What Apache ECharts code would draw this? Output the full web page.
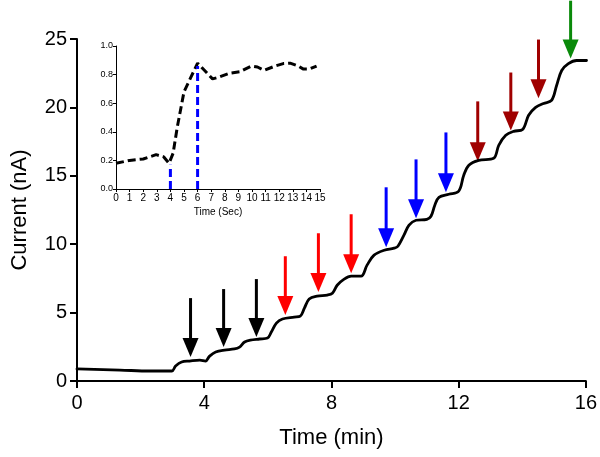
<!DOCTYPE html>
<html>
<head>
<meta charset="utf-8">
<script src="https://cdn.jsdelivr.net/npm/echarts@6/dist/echarts.min.js"></script>
<style>html,body{margin:0;padding:0;background:#fff}#c{width:600px;height:457px}</style>
</head>
<body>
<div id="c"></div>
<script>
// Main trace: time (min) and current (nA)
var timeMin = [0, 1.35, 2.29, 2.98, 3.1, 3.29, 3.54, 3.86, 4.04, 4.17, 4.36, 4.64, 4.95, 5.11, 5.27, 5.45, 5.74, 5.99,
  6.11, 6.27, 6.46, 6.83, 7.02, 7.15, 7.3, 7.55, 7.87, 8.03, 8.18, 8.4, 8.62, 8.93, 9.12, 9.34, 9.66, 9.97, 10.09,
  10.28, 10.44, 10.66, 11.0, 11.13, 11.25, 11.38, 11.69, 12.0, 12.16, 12.32, 12.63, 13.1, 13.26, 13.48, 13.73, 14.01,
  14.2, 14.42, 14.67, 14.92, 15.08, 15.24, 15.45, 15.71, 16.02];
var currentNA = [0.88, 0.80, 0.73, 0.73, 1.09, 1.39, 1.46, 1.53, 1.46, 1.82, 2.12, 2.26, 2.34, 2.48, 2.85, 2.99, 3.07, 3.14,
  3.58, 4.23, 4.53, 4.67, 4.74, 5.33, 5.99, 6.2, 6.28, 6.42, 7.0, 7.45, 7.66, 7.66, 8.47, 9.2, 9.56, 9.71, 9.85,
  10.66, 11.39, 11.75, 11.82, 12.04, 12.85, 13.43, 13.65, 13.87, 15.04, 15.77, 16.13, 16.28, 17.23, 17.96, 18.25, 18.39,
  19.42, 20.0, 20.29, 20.51, 21.6, 22.7, 23.2, 23.43, 23.43];

// Addition arrows
var arrowX = [3.57, 4.61, 5.64, 6.55, 7.59, 8.62, 9.72, 10.66, 11.6, 12.6, 13.64, 14.51, 15.52];
var arrowTop = [6.06, 6.72, 7.45, 9.12, 10.8, 12.19, 14.16, 16.2, 18.17, 20.44, 22.55, 24.96, 27.8];
var arrowTip = [1.75, 2.48, 3.21, 4.82, 6.5, 7.88, 9.78, 11.9, 13.8, 16.06, 18.32, 20.66, 23.58];
var arrowColor = ['#000000', '#000000', '#000000', '#ff0000', '#ff0000', '#ff0000', '#0000ff', '#0000ff', '#0000ff',
  '#a00000', '#a00000', '#a00000', '#0a8a0a'];

// Inset: time (sec) and response
var insetSec = [0, 1, 2, 2.95, 3.5, 3.9, 4.2, 4.5, 5, 5.5, 6.0, 6.5, 7.1, 7.5, 8.35, 9.1, 9.95, 10.4, 10.9, 11.7, 12.3, 12.8, 13.4, 13.75, 14.25, 14.75];
var insetVal = [0.18, 0.2, 0.21, 0.24, 0.225, 0.18, 0.25, 0.43, 0.68, 0.78, 0.88, 0.83, 0.77, 0.78, 0.81, 0.82, 0.86, 0.853, 0.83, 0.86, 0.877, 0.88, 0.86, 0.84, 0.84, 0.86];
var insetMarkX = [4, 6];
var insetMarkY = [0.17, 0.86];

var FONT = 'Liberation Sans, Arial, sans-serif';

function zip(a, b) { return a.map(function (v, i) { return [v, b[i]]; }); }

var arrowData = arrowX.map(function (x, i) { return [x, arrowTop[i], arrowTip[i], i]; });

var chart = echarts.init(document.getElementById('c'), null, { renderer: 'canvas' });
chart.setOption({
  animation: false,
  backgroundColor: '#ffffff',
  grid: [
    { left: 77, right: 12, top: 39, bottom: 76 },
    { left: 116, top: 46, width: 204, height: 143 }
  ],
  xAxis: [
    {
      gridIndex: 0, type: 'value', min: 0, max: 16, interval: 4,
      name: 'Time (min)', nameLocation: 'middle', nameGap: 46,
      nameTextStyle: { fontFamily: FONT, fontSize: 22, color: '#000' },
      axisLine: { lineStyle: { color: '#000', width: 2 } },
      axisTick: { length: 7, lineStyle: { color: '#000', width: 2 } },
      axisLabel: { fontFamily: FONT, fontSize: 20, color: '#000', margin: 12 },
      splitLine: { show: false }
    },
    {
      gridIndex: 1, type: 'value', min: 0, max: 15, interval: 1,
      name: 'Time (Sec)', nameLocation: 'middle', nameGap: 18,
      nameTextStyle: { fontFamily: FONT, fontSize: 10, color: '#000' },
      axisLine: { lineStyle: { color: '#000', width: 1 } },
      axisTick: { length: 3, lineStyle: { color: '#000', width: 1 } },
      axisLabel: { fontFamily: FONT, fontSize: 10, color: '#000', margin: 4 },
      splitLine: { show: false }
    }
  ],
  yAxis: [
    {
      gridIndex: 0, type: 'value', min: 0, max: 25, interval: 5,
      name: 'Current (nA)', nameLocation: 'middle', nameGap: 46,
      nameTextStyle: { fontFamily: FONT, fontSize: 22, color: '#000' },
      axisLine: { show: true, lineStyle: { color: '#000', width: 2 } },
      axisTick: { show: true, length: 7, lineStyle: { color: '#000', width: 2 } },
      axisLabel: { fontFamily: FONT, fontSize: 20, color: '#000', margin: 10 },
      splitLine: { show: false }
    },
    {
      gridIndex: 1, type: 'value', min: 0, max: 1, interval: 0.2,
      axisLine: { show: true, lineStyle: { color: '#000', width: 1 } },
      axisTick: { show: true, length: 3, lineStyle: { color: '#000', width: 1 } },
      axisLabel: { fontFamily: FONT, fontSize: 9, color: '#000', margin: 3,
        formatter: function (v) { return v.toFixed(1); } },
      splitLine: { show: false }
    }
  ],
  series: [
    {
      type: 'line', xAxisIndex: 0, yAxisIndex: 0,
      data: zip(timeMin, currentNA), showSymbol: false, symbol: 'none',
      smooth: 0.35,
      lineStyle: { color: '#000', width: 2.8, join: 'round', cap: 'round' }
    },
    {
      type: 'custom', xAxisIndex: 0, yAxisIndex: 0, clip: false,
      data: arrowData,
      renderItem: function (params, api) {
        var top = api.coord([api.value(0), api.value(1)]);
        var tip = api.coord([api.value(0), api.value(2)]);
        var col = arrowColor[api.value(3)];
        var headH = 19, headW = 8;
        return {
          type: 'group',
          children: [
            { type: 'line', shape: { x1: top[0], y1: top[1], x2: tip[0], y2: tip[1] - headH + 2 },
              style: { stroke: col, lineWidth: 3 } },
            { type: 'polygon', shape: { points: [[tip[0] - headW, tip[1] - headH], [tip[0] + headW, tip[1] - headH], [tip[0], tip[1]]] },
              style: { fill: col } }
          ]
        };
      }
    },
    {
      type: 'line', xAxisIndex: 1, yAxisIndex: 1,
      data: zip(insetSec, insetVal), showSymbol: false, symbol: 'none',
      lineStyle: { color: '#000', width: 3, type: [8, 4] }
    },
    {
      type: 'line', xAxisIndex: 1, yAxisIndex: 1,
      data: [[insetMarkX[0], 0], [insetMarkX[0], insetMarkY[0]]], showSymbol: false, symbol: 'none',
      lineStyle: { color: '#0000ff', width: 3, type: [8, 4] }
    },
    {
      type: 'line', xAxisIndex: 1, yAxisIndex: 1,
      data: [[insetMarkX[1], 0], [insetMarkX[1], insetMarkY[1]]], showSymbol: false, symbol: 'none',
      lineStyle: { color: '#0000ff', width: 3, type: [8, 4] }
    }
  ]
});
</script>
</body>
</html>
